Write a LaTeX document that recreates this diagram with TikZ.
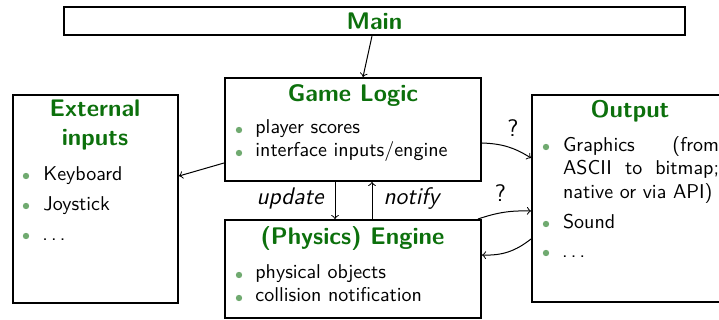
\documentclass[tikz,border=0pt]{standalone}
\usetikzlibrary{fit}
\definecolor{titlegreen}{RGB}{12,112,12}
\definecolor{bulletgreen}{RGB}{112,170,112}
\newcommand\spaceddots{.\kern1.6pt.\kern1.6pt.}
\tikzset{
  box/.style={draw, line width=1pt, inner sep=0pt},
  boxtitle/.style={font=\sffamily\bfseries\fontsize{12}{14}\selectfont,
    text=titlegreen, inner sep=0pt, anchor=base},
  entry/.style={font=\sffamily\fontsize{10}{12}\selectfont, inner sep=0pt,
    anchor=base west},
  dot/.style={circle, fill=bulletgreen, inner sep=0pt, minimum size=3.2pt},
  link/.style={->, line width=0.5pt},
  flowlabel/.style={font=\sffamily\itshape\fontsize{12}{14}\selectfont,
    inner sep=0pt, anchor=base},
  query/.style={font=\sffamily\fontsize{12}{14}\selectfont, inner sep=0pt},
}
\begin{document}
\begin{tikzpicture}[x=0.5pt, y=-0.5pt]
  \useasboundingbox (0,0) rectangle (719,320);
  \clip (0,0) rectangle (719,320);

  % frames
  \node[box, fit={(64,7) (685,35)}] (main) {};
  \node[box, fit={(225,78) (481,181)}] (logic) {};
  \node[box, fit={(225,220) (481,318)}] (engine) {};
  \node[box, fit={(13,95) (178,303)}] (ext) {};
  \node[box, fit={(532,95) (730,302)}] (out) {};

  % titles
  \node[boxtitle] (tmain) at (374.5,29.5) {Main};
  \node[boxtitle] (tlogic) at (353,101.5) {Game Logic};
  \node[boxtitle] (tengine) at (352.5,245) {(Physics) Engine};
  \node[boxtitle] (text1) at (95,117) {External};
  \node[boxtitle] (text2) at (95,146) {inputs};
  \node[boxtitle] (tout) at (630,117.5) {Output};

  % game logic entries
  \node[dot] (d1) at (239,130) {};
  \node[entry] (e1) at (255,134) {player scores};
  \node[dot] (d2) at (239,153) {};
  \node[entry] (e2) at (255,157) {interface inputs/engine};

  % engine entries
  \node[dot] (d3) at (239,275) {};
  \node[entry] (e3) at (255,279) {physical objects};
  \node[dot] (d4) at (239,298) {};
  \node[entry] (e4) at (255,302) {collision notification};

  % external input entries
  \node[dot] (d5) at (26,176) {};
  \node[entry] (e5) at (43,180.5) {Keyboard};
  \node[dot] (d6) at (26,206) {};
  \node[entry] (e6) at (43,210.5) {Joystick};
  \node[dot] (d7) at (26,236) {};
  \node[entry] (e7) at (42,240.5) {\spaceddots};

  % output entries
  \node[dot] (d8) at (546,147) {};
  \node[entry] (e8) at (562.7,151.7) {\parbox[t]{78pt}{\baselineskip=11.6pt
    \hyphenpenalty=10000 \tolerance=10000 \rightskip=0pt
    Graphics (from ASCII to bitmap; native or via API)}};
  \node[dot] (d9) at (546,224) {};
  \node[entry] (e9) at (562.7,228.5) {Sound};
  \node[dot] (d10) at (546,253) {};
  \node[entry] (e10) at (561.7,257.5) {\spaceddots};

  % connectors
  \draw[link] ([xshift=-1.25pt]main.south) -- ([xshift=5pt]logic.north);
  \draw[link] ([yshift=-16.75pt]logic.west) -- ([yshift=11.5pt]ext.east);
  \draw[link] ([xshift=-9pt]logic.south) -- ([xshift=-9pt]engine.north);
  \draw[link] ([xshift=9.5pt]engine.north) -- ([xshift=9.5pt]logic.south);
  \node[flowlabel] (lupdate) at (290,205) {update};
  \node[flowlabel] (lnotify) at (411.5,205) {notify};

  \draw[link] ([yshift=-6.75pt]logic.east) to[bend left=15] ([yshift=20.25pt]out.west);
  \node[query] (q1) at (513,128) {?};
  \draw[link] ([xshift=-2pt]engine.north east) to[bend left=10] ([yshift=-6.25pt]out.west);
  \node[query] (q2) at (500.5,193.5) {?};
  \draw[link] ([yshift=-20.25pt]out.west) to[bend left=20] ([yshift=7pt]engine.east);
\end{tikzpicture}
\end{document}
